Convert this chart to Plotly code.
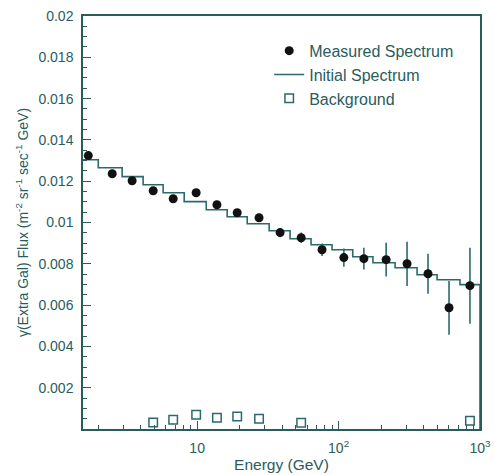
import plotly.graph_objects as go

# ---- data ----
energy = [1.70, 2.51, 3.47, 4.89, 6.77, 9.84, 13.8, 19.2, 27.4, 38.6,
          54.4, 76.4, 109, 151, 217, 305, 429, 604, 849]
measured = [0.01324, 0.01236, 0.01202, 0.01154, 0.01115, 0.01144, 0.01086,
            0.01047, 0.01023, 0.00951, 0.00926, 0.00868, 0.00830, 0.00825,
            0.00820, 0.00800, 0.00752, 0.00587, 0.00694]
measured_err = [0.0001, 0.0001, 0.0001, 0.00012, 0.00012, 0.00013, 0.00015,
                0.00016, 0.0002, 0.00022, 0.00025, 0.0003, 0.00044, 0.00053,
                0.00082, 0.00107, 0.00097, 0.0013, 0.00184]

bin_edges = [1.41, 2.0, 2.95, 4.15, 5.75, 8.1, 11.6, 16.3, 22.6, 32.3,
             45.4, 63.9, 89.9, 126, 175, 251, 359, 497, 722, 1000]
initial = [0.01304, 0.01265, 0.01222, 0.01183, 0.01144, 0.01101, 0.01062,
           0.01028, 0.00994, 0.00960, 0.00921, 0.00892, 0.00868, 0.00834,
           0.00805, 0.00781, 0.00747, 0.00723, 0.00699]

bg_energy = [4.89, 6.77, 9.84, 13.8, 19.2, 27.4, 54.4, 849]
background = [0.00031, 0.00045, 0.00069, 0.00055, 0.0006, 0.0005, 0.0003, 0.0004]

x_tickvals = [10, 100, 1000]
x_ticktext = ["10", "10<sup>2</sup>", "10<sup>3</sup>"]
x_minor = [2, 3, 4, 5, 6, 7, 8, 9, 20, 30, 40, 50, 60, 70, 80, 90,
           200, 300, 400, 500, 600, 700, 800, 900]
y_tickvals = [0.002, 0.004, 0.006, 0.008, 0.01, 0.012, 0.014, 0.016, 0.018, 0.02]
y_ticktext = ["0.002", "0.004", "0.006", "0.008", "0.01", "0.012", "0.014",
              "0.016", "0.018", "0.02"]
y_minor = [i * 0.0005 for i in range(0, 41)]

# ---- styles ----
INK = "#2a5c5c"
LINE = "#2c6a6a"
FONT = "Liberation Sans, Arial, Helvetica, sans-serif"

fig = go.Figure()

step_x = bin_edges[:-1] + [bin_edges[-1]]
step_y = initial + [0]
fig.add_trace(go.Scatter(
    x=step_x, y=step_y, mode="lines", line=dict(shape="hv", color=LINE, width=1.6),
    name="Initial Spectrum", legendrank=2))

fig.add_trace(go.Scatter(
    x=bg_energy, y=background, mode="markers",
    marker=dict(symbol="square-open", size=8.5, color=LINE, line=dict(width=1.5, color=LINE)),
    name="Background", legendrank=3))

fig.add_trace(go.Scatter(
    x=energy, y=measured, mode="markers",
    error_y=dict(type="data", array=measured_err, color=LINE, thickness=1.6, width=0),
    marker=dict(symbol="circle", size=9, color="#111111"),
    name="Measured Spectrum", legendrank=1))

axis_common = dict(showline=True, linecolor=INK, linewidth=1.5, mirror=True,
                   ticks="inside", tickcolor=INK, tickwidth=1.3,
                   showgrid=False, zeroline=False, automargin=False,
                   tickfont=dict(family=FONT, size=14, color=INK))

fig.update_xaxes(type="log", range=[0.193, 3.0],
                 tickmode="array", tickvals=x_tickvals, ticktext=x_ticktext, ticklen=8,
                 ticklabelstandoff=5,
                 minor=dict(tickmode="array", tickvals=x_minor, ticks="inside",
                            ticklen=4, tickcolor=INK, tickwidth=1.2),
                 title=dict(text="Energy (GeV)", font=dict(family=FONT, size=15.5, color=INK),
                            standoff=2),
                 **axis_common)
fig.update_yaxes(range=[0, 0.02],
                 tickmode="array", tickvals=y_tickvals, ticktext=y_ticktext, ticklen=8,
                 ticklabelstandoff=5,
                 minor=dict(tickmode="array", tickvals=y_minor, ticks="inside",
                            ticklen=4, tickcolor=INK, tickwidth=1.2),
                 title=dict(text="γ(Extra Gal) Flux (m<sup>-2</sup> sr<sup>-1</sup> sec<sup>-1</sup> GeV)",
                            font=dict(family=FONT, size=14, color=INK), standoff=7),
                 **axis_common)

fig.update_layout(
    width=494, height=475,
    margin=dict(l=83, r=14, t=16, b=46, autoexpand=False),
    paper_bgcolor="white", plot_bgcolor="white",
    font=dict(family=FONT, color=INK),
    showlegend=True,
    legend=dict(x=0.469, y=0.957, xanchor="left", yanchor="top",
                bgcolor="rgba(0,0,0,0)", font=dict(family=FONT, size=16, color=INK),
                itemwidth=30, tracegroupgap=0),
)

fig.write_html("out.html")
